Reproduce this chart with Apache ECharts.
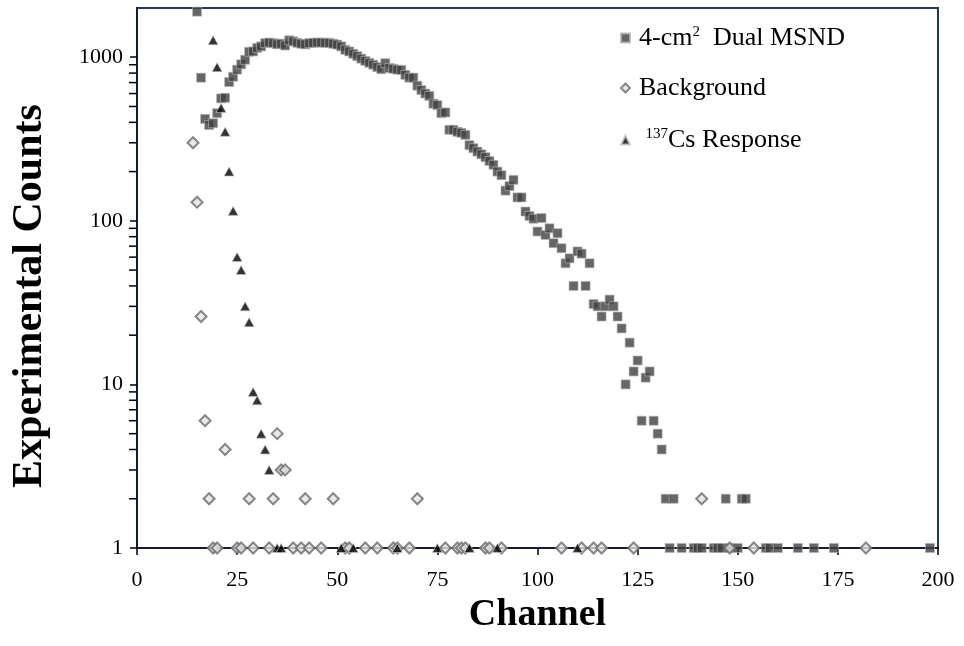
<!DOCTYPE html>
<html>
<head>
<meta charset="utf-8">
<script src="https://cdn.jsdelivr.net/npm/echarts@6/dist/echarts.min.js"></script>
<style>html,body{margin:0;padding:0;background:#fff;}#c{width:964px;height:646px;}</style>
</head>
<body>
<div id="c"></div>
<script>
// ---- data ----
const msndCh = [15,16,17,18,19,20,21,22,23,24,25,26,27,28,29,30,31,32,33,34,35,36,37,38,39,40,41,42,43,44,45,46,47,48,49,50,
  51,52,53,54,55,56,57,58,59,60,61,62,63,64,65,66,67,68,69,70,71,72,73,74,75,76,77,78,79,80,81,82,83,84,85,86,87,88,89,90,
  91,92,93,94,95,96,97,98,99,100,101,102,103,104,105,106,107,108,109,110,111,112,113,114,115,116,117,118,119,120,
  121,122,123,124,125,126,127,128,129,130,131,132,134,147,151,152,
  133,136,139,140,141,144,145,146,148,150,157,158,160,165,169,174,198];
const msndVal = [1900,750,420,385,395,455,560,565,705,760,840,905,965,1080,1085,1140,1165,1220,1230,1220,1200,1210,1180,1270,1250,1225,1210,1200,1220,1225,1230,1230,1225,1225,1210,1195,
  1165,1110,1085,1050,1015,980,950,925,900,870,845,920,860,850,840,835,780,750,750,670,630,600,580,520,510,455,460,360,360,350,345,335,290,278,265,255,245,232,220,200,
  190,153,163,178,139,139,114,107,103,86,104,82,90,73,84,68,55,59,40,65,63,40,55,31,30,26,30,33,30,26,
  22,10,18,12,14,6,11,12,6,5,4,2,2,2,2,2,
  1,1,1,1,1,1,1,1,1,1,1,1,1,1,1,1,1];

const bgCh = [14,15,16,17,18,22,28,34,35,36,37,42,49,70,141,
  19,20,25,26,29,33,39,41,43,46,52,53,57,60,64,65,68,77,80,81,82,87,88,91,106,111,114,116,124,148,154,182];
const bgVal = [300,130,26,6,2,4,2,2,5,3,3,2,2,2,2,
  1,1,1,1,1,1,1,1,1,1,1,1,1,1,1,1,1,1,1,1,1,1,1,1,1,1,1,1,1,1,1,1];

const csCh = [19,20,21,22,23,24,25,26,27,28,29,30,31,32,33,35,36,51,54,65,75,83,90,110];
const csVal = [1270,870,490,350,200,115,60,50,30,24,9,8,5,4,3,1,1,1,1,1,1,1,1,1];

const seriesNames = ['4-cm2 Dual MSND', 'Background', '137Cs Response'];
const xTicks = {min: 0, max: 200, interval: 25};
const yMajorLabels = [1, 10, 100, 1000];
const yMinorTicks = [2,3,4,5,6,7,8,9,20,30,40,50,60,70,80,90,200,300,400,500,600,700,800,900];

const pairs = (xs, ys) => xs.map((x, i) => [x, ys[i]]);

const FONT = 'Liberation Serif';
const chart = echarts.init(document.getElementById('c'), null, {renderer: 'canvas'});
const option = {
  animation: false,
  backgroundColor: '#ffffff',
  grid: {left: 137, right: 26, top: 8, bottom: 98, show: true, borderColor: '#1f3868', borderWidth: 2,
         backgroundColor: 'transparent', outerBoundsMode: 'none', containLabel: false},
  legend: {
    data: seriesNames,
    orient: 'vertical',
    left: 615, top: 18,
    itemGap: 24,
    itemWidth: 9, itemHeight: 9,
    textStyle: {
      fontFamily: FONT, fontSize: 26, color: '#000',
      rich: {
        f: {fontFamily: FONT, fontSize: 26, color: '#000', lineHeight: 30, padding: [0, 0, 0, 4]},
        n: {fontFamily: FONT, fontSize: 26, color: '#000', lineHeight: 30},
        sup: {fontFamily: FONT, fontSize: 15, color: '#000', verticalAlign: 'top', lineHeight: 18, padding: [2, 0, 0, 0]}
      }
    },
    formatter: function (name) {
      if (name === seriesNames[0]) return '{f|4-cm}{sup|2}{n|  Dual MSND}';
      if (name === seriesNames[2]) return '{f| }{sup|137}{n|Cs Response}';
      return '{f|' + name + '}';
    }
  },
  xAxis: {
    type: 'value', min: xTicks.min, max: xTicks.max, interval: xTicks.interval,
    name: 'Channel', nameLocation: 'middle', nameGap: 45,
    nameTextStyle: {fontFamily: FONT, fontWeight: 'bold', fontSize: 38, color: '#000'},
    axisLine: {show: true, onZero: false, lineStyle: {color: '#101c38', width: 2}},
    axisTick: {show: true, length: 7, lineStyle: {color: '#000', width: 1.5}},
    axisLabel: {fontFamily: FONT, fontSize: 22, color: '#000', margin: 21},
    splitLine: {show: false}
  },
  yAxis: {
    type: 'log', logBase: 10, min: 1, max: 2000,
    name: 'Experimental Counts', nameLocation: 'middle', nameGap: 86, nameRotate: 90,
    nameTextStyle: {fontFamily: FONT, fontWeight: 'bold', fontSize: 42, color: '#000', padding: [0, 36, 0, 0]},
    axisLine: {show: true, onZero: false, lineStyle: {color: '#101c38', width: 2}},
    axisTick: {show: true, length: 7, lineStyle: {color: '#000', width: 1.5}},
    axisLabel: {
      fontFamily: FONT, fontSize: 22, color: '#000', margin: 14, showMaxLabel: false,
      formatter: function (v) {
        const r = Math.round(v);
        return yMajorLabels.indexOf(r) >= 0 ? String(r) : '';
      }
    },
    splitLine: {show: false}
  },
  series: [
    {
      name: seriesNames[0], type: 'scatter', symbol: 'rect', symbolSize: 9, z: 3,
      itemStyle: {color: '#404040', borderColor: '#b4b4b4', borderWidth: 0.8},
      data: pairs(msndCh, msndVal)
    },
    {
      name: seriesNames[1], type: 'scatter', symbol: 'diamond', symbolSize: [11, 11], z: 4,
      itemStyle: {color: '#e4e4e4', borderColor: '#6a6a6a', borderWidth: 2},
      data: pairs(bgCh, bgVal)
    },
    {
      name: seriesNames[2], type: 'scatter', symbol: 'triangle', symbolSize: [10, 9], z: 5,
      itemStyle: {color: '#000', borderColor: '#c8c8c8', borderWidth: 0.8},
      data: pairs(csCh, csVal)
    }
  ]
};
chart.setOption(option);

// log-spaced minor ticks on the y axis, positioned through the axis scale
const minorLines = yMinorTicks.map(function (v) {
  const p = chart.convertToPixel({xAxisIndex: 0, yAxisIndex: 0}, [xTicks.min, v]);
  return {type: 'line', silent: true, z: 10,
          shape: {x1: p[0] - 8, y1: p[1], x2: p[0] - 1, y2: p[1]},
          style: {stroke: '#000', lineWidth: 1.5}};
});
chart.setOption({graphic: {elements: minorLines}});
</script>
</body>
</html>
